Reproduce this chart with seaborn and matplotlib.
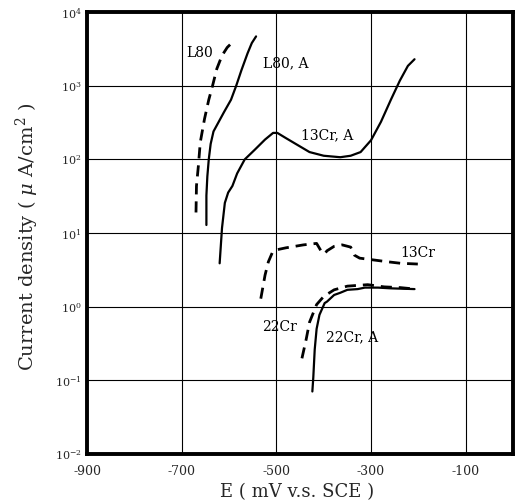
import matplotlib
matplotlib.use("Agg")
import matplotlib.pyplot as plt
import seaborn as sns
import pandas as pd
import numpy as np

# ---- data (E in mV vs SCE, log10 of current density in uA/cm2) ----
l80_E = [-670, -669, -665, -661, -652, -643, -635, -626, -615, -604, -593]
l80_logI = [1.28, 1.64, 1.91, 2.23, 2.55, 2.81, 3.0, 3.23, 3.41, 3.52, 3.59]

l80a_E = [-648, -648, -646, -643, -639, -633, -622, -611, -596, -585, -574, -561, -552, -543]
l80a_logI = [1.11, 1.51, 1.77, 2.0, 2.21, 2.38, 2.51, 2.64, 2.81, 3.0, 3.21, 3.44, 3.58, 3.67]

cr13a_E = [-620, -615, -609, -602, -593, -583, -567, -546, -524, -507, -498, -480, -459,
           -430, -400, -365, -343, -322, -300, -279, -258, -239, -222, -208]
cr13a_logI = [0.59, 1.07, 1.41, 1.55, 1.64, 1.81, 2.0, 2.13, 2.27, 2.36, 2.36, 2.29, 2.21,
              2.10, 2.05, 2.03, 2.05, 2.10, 2.26, 2.51, 2.81, 3.07, 3.27, 3.36]

cr13_E = [-533, -524, -517, -509, -502, -480, -443, -415, -404, -398, -393, -378, -361,
          -343, -335, -324, -300, -264, -237, -201]
cr13_logI = [0.11, 0.43, 0.61, 0.73, 0.77, 0.80, 0.84, 0.86, 0.74, 0.72, 0.76, 0.82, 0.84,
             0.81, 0.70, 0.66, 0.64, 0.61, 0.59, 0.58]

cr22_E = [-446, -437, -430, -415, -400, -378, -350, -307, -272, -238, -206]
cr22_logI = [-0.70, -0.44, -0.21, 0.03, 0.14, 0.23, 0.28, 0.30, 0.27, 0.26, 0.24]

cr22a_E = [-424, -422, -419, -415, -409, -398, -393, -378, -365, -350, -328, -313, -285, -258, -208]
cr22a_logI = [-1.15, -0.96, -0.58, -0.30, -0.11, 0.05, 0.07, 0.16, 0.19, 0.23, 0.24, 0.26, 0.26, 0.25, 0.24]

# curve labels
label_text = ["L80", "L80, A", "13Cr, A", "13Cr", "22Cr", "22Cr, A"]
label_E = [-690, -528, -448, -237, -530, -396]
label_logI = [3.45, 3.30, 2.33, 0.73, -0.28, -0.42]

xticks = [-900, -700, -500, -300, -100]
xtick_labels = ["-900", "-700", "-500", "-300", "-100"]
yticks = [1e-2, 1e-1, 1e0, 1e1, 1e2, 1e3, 1e4]
ytick_labels = [r"$10^{-2}$", r"$10^{-1}$", r"$10^{0}$", r"$10^{1}$", r"$10^{2}$", r"$10^{3}$", r"$10^{4}$"]

sns.set_style("white")
plt.rcParams["font.family"] = ["DejaVu Serif"]
plt.rcParams["mathtext.fontset"] = "dejavuserif"

fig = plt.figure(figsize=(5.16, 5.04), dpi=100)
ax = fig.add_axes([0.169, 0.099, 0.825, 0.877])

curves = [
    (l80_E, l80_logI, "dash"),
    (l80a_E, l80a_logI, "solid"),
    (cr13a_E, cr13a_logI, "solid"),
    (cr13_E, cr13_logI, "dash"),
    (cr22_E, cr22_logI, "dash"),
    (cr22a_E, cr22a_logI, "solid"),
]
for E, logI, style in curves:
    df = pd.DataFrame({"E": E, "I": np.power(10.0, logI)})
    if style == "dash":
        sns.lineplot(data=df, x="E", y="I", ax=ax, sort=False, estimator=None,
                     color="black", lw=2.0, linestyle=(0, (4, 2.5)))
    else:
        sns.lineplot(data=df, x="E", y="I", ax=ax, sort=False, estimator=None,
                     color="black", lw=1.6)

ax.set_yscale("log")
ax.set_xlim(-900, 0)
ax.set_ylim(1e-2, 1e4)
ax.set_xticks(xticks)
ax.set_xticklabels(xtick_labels, fontsize=9)
ax.set_yticks(yticks)
ax.set_yticklabels(ytick_labels, fontsize=8)
ax.yaxis.set_minor_locator(matplotlib.ticker.NullLocator())
ax.tick_params(axis="both", length=0)
ax.tick_params(axis="x", pad=8)
ax.tick_params(axis="y", pad=4)
ax.grid(True, which="major", color="black", lw=0.8)
ax.set_axisbelow(True)
for s in ax.spines.values():
    s.set_visible(True)
    s.set_color("black")
    s.set_linewidth(2.8)
ax.set_xlabel("")
ax.set_ylabel("")

for t, e, li in zip(label_text, label_E, label_logI):
    ax.text(e, 10 ** li, t, fontsize=10, ha="left", va="center", color="black")

fig.text(0.053, 0.53, r"Current density ( $\mu$ A/cm$^2$ )", rotation=90,
         ha="center", va="center", fontsize=14)
fig.text(0.575, 0.024, "E ( mV v.s. SCE )", ha="center", va="center", fontsize=13)

fig.savefig("out.png", dpi=100)
